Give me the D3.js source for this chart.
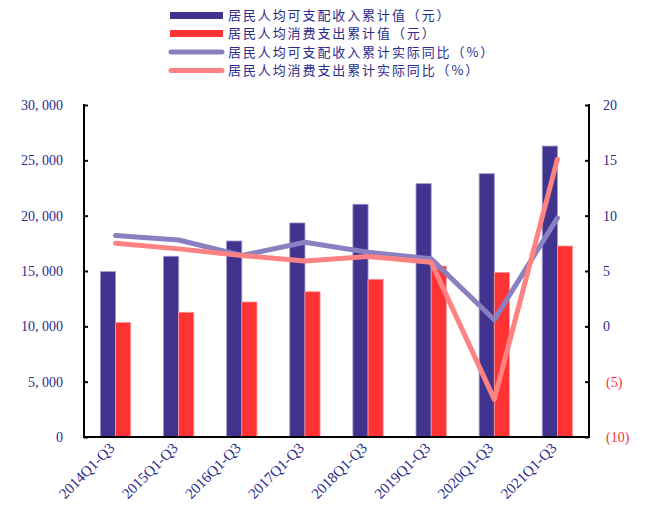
<!DOCTYPE html>
<html>
<head>
<meta charset="utf-8">
<script src="https://cdn.jsdelivr.net/npm/d3@7"></script>
<style>
  html, body { margin: 0; padding: 0; background: #fff; }
  svg { display: block; }
</style>
</head>
<body>
<svg id="chart" width="645" height="506"></svg>
<script>
// Periods (Q1–Q3 cumulative)
const categories = ["2014Q1-Q3", "2015Q1-Q3", "2016Q1-Q3", "2017Q1-Q3",
                    "2018Q1-Q3", "2019Q1-Q3", "2020Q1-Q3", "2021Q1-Q3"];
// Per-capita disposable income, cumulative (yuan)
const incomeValues = [14940, 16330, 17710, 19340, 21030, 22890, 23790, 26290];
// Per-capita consumption expenditure, cumulative (yuan)
const spendValues = [10360, 11270, 12200, 13130, 14250, 15450, 14880, 17260];
// Real YoY growth of income (%)
const incomeGrowth = [8.2, 7.8, 6.4, 7.6, 6.7, 6.1, 0.6, 9.8];
// Real YoY growth of consumption (%)
const spendGrowth = [7.5, 7.0, 6.4, 5.9, 6.3, 5.8, -6.6, 15.1];
// Axis ticks
const leftTicks = [0, 5000, 10000, 15000, 20000, 25000, 30000];
const rightTicks = [-10, -5, 0, 5, 10, 15, 20];

const seriesNames = ["居民人均可支配收入累计值（元）", "居民人均消费支出累计值（元）",
                     "居民人均可支配收入累计实际同比（%）", "居民人均消费支出累计实际同比（%）"];

const C = {
  incomeBar: "#41348F",
  spendBar: "#FF3333",
  incomeLine: "#8880C0",
  spendLine: "#FF8282",
  text: "#2B2B8C",
  neg: "#FF3333"
};

const svg = d3.select("#chart");
const m = { left: 84, right: 589, top: 105, bottom: 437 };

const x = d3.scaleBand().domain(categories).range([m.left, m.right]).paddingInner(0.52).paddingOuter(0.26);
const yL = d3.scaleLinear().domain([0, 30000]).range([m.bottom, m.top]);
const yR = d3.scaleLinear().domain([-10, 20]).range([m.bottom, m.top]);
const xc = d => x(d) + x.bandwidth() / 2;
const half = x.bandwidth() / 2;

// Bars
const g = svg.append("g");
g.selectAll("rect.inc").data(categories).join("rect")
  .attr("class", "inc")
  .attr("x", d => x(d))
  .attr("width", half)
  .attr("y", (d, i) => yL(incomeValues[i]))
  .attr("height", (d, i) => yL(0) - yL(incomeValues[i]))
  .attr("fill", C.incomeBar)
  .attr("stroke", "#9C95CC").attr("stroke-width", 0.8);
g.selectAll("rect.sp").data(categories).join("rect")
  .attr("class", "sp")
  .attr("x", d => x(d) + half)
  .attr("width", half)
  .attr("y", (d, i) => yL(spendValues[i]))
  .attr("height", (d, i) => yL(0) - yL(spendValues[i]))
  .attr("fill", C.spendBar)
  .attr("stroke", "#FF9A9A").attr("stroke-width", 0.8);

// Growth lines
const line = vals => d3.line().x((d, i) => xc(categories[i])).y(d => yR(d))(vals);
svg.append("path").attr("d", line(incomeGrowth))
  .attr("fill", "none").attr("stroke", C.incomeLine).attr("stroke-width", 5)
  .attr("stroke-linecap", "round").attr("stroke-linejoin", "round");
svg.append("path").attr("d", line(spendGrowth))
  .attr("fill", "none").attr("stroke", C.spendLine).attr("stroke-width", 5)
  .attr("stroke-linecap", "round").attr("stroke-linejoin", "round");

// Axes
const fmtL = d => d3.format(",")(d).replace(",", ", ");
const axL = svg.append("g").attr("transform", `translate(${m.left},0)`)
  .call(d3.axisRight(yL).tickValues(leftTicks).tickSize(4).tickFormat(""));
const axR = svg.append("g").attr("transform", `translate(${m.right},0)`)
  .call(d3.axisLeft(yR).tickValues(rightTicks).tickSize(4).tickFormat(""));
[axL, axR].forEach(a => {
  a.select(".domain").remove();
  a.selectAll(".tick line").attr("stroke", "#000").attr("stroke-width", 2);
});
// Plot frame: left, bottom, right
svg.append("path")
  .attr("d", `M${m.left},${m.top - 1}V${m.bottom}H${m.right}V${m.top - 1}`)
  .attr("fill", "none").attr("stroke", "#000").attr("stroke-width", 2);

const serif = "'Liberation Serif','DejaVu Serif',serif";
svg.append("g").selectAll("text").data(leftTicks).join("text")
  .attr("x", 63).attr("y", d => yL(d)).attr("dy", "0.35em")
  .attr("text-anchor", "end").attr("font-family", serif).attr("font-size", 14)
  .attr("fill", C.text).text(d => fmtL(d));
svg.append("g").selectAll("text").data(rightTicks).join("text")
  .attr("x", d => d < 0 ? 606 : 603).attr("y", d => yR(d)).attr("dy", "0.35em")
  .attr("text-anchor", "start").attr("font-family", serif).attr("font-size", 14)
  .attr("fill", d => d < 0 ? C.neg : C.text)
  .text(d => d < 0 ? `(${-d})` : d);

// Category labels, rotated
svg.append("g").selectAll("text").data(categories).join("text")
  .attr("transform", d => `translate(${xc(d)},${449}) rotate(-45)`)
  .attr("text-anchor", "end").attr("font-family", serif).attr("font-size", 15)
  .attr("fill", C.text).text(d => d);

// Legend
const lg = svg.append("g").attr("font-family", "'Noto Sans CJK SC',sans-serif")
  .attr("font-size", 13).attr("letter-spacing", 1.9);
const rows = [15.5, 33.5, 52, 70.5];
seriesNames.forEach((name, i) => {
  const y = rows[i];
  if (i < 2) {
    lg.append("rect").attr("x", 170).attr("y", y - 3.5).attr("width", 53).attr("height", 7)
      .attr("fill", i === 0 ? C.incomeBar : C.spendBar);
  } else {
    lg.append("line").attr("x1", 171).attr("x2", 222).attr("y1", y).attr("y2", y)
      .attr("stroke", i === 2 ? C.incomeLine : C.spendLine).attr("stroke-width", 5)
      .attr("stroke-linecap", "round");
  }
  lg.append("text").attr("x", 228).attr("y", y).attr("dy", "0.35em")
    .attr("fill", C.text).text(name);
});
</script>
</body>
</html>
